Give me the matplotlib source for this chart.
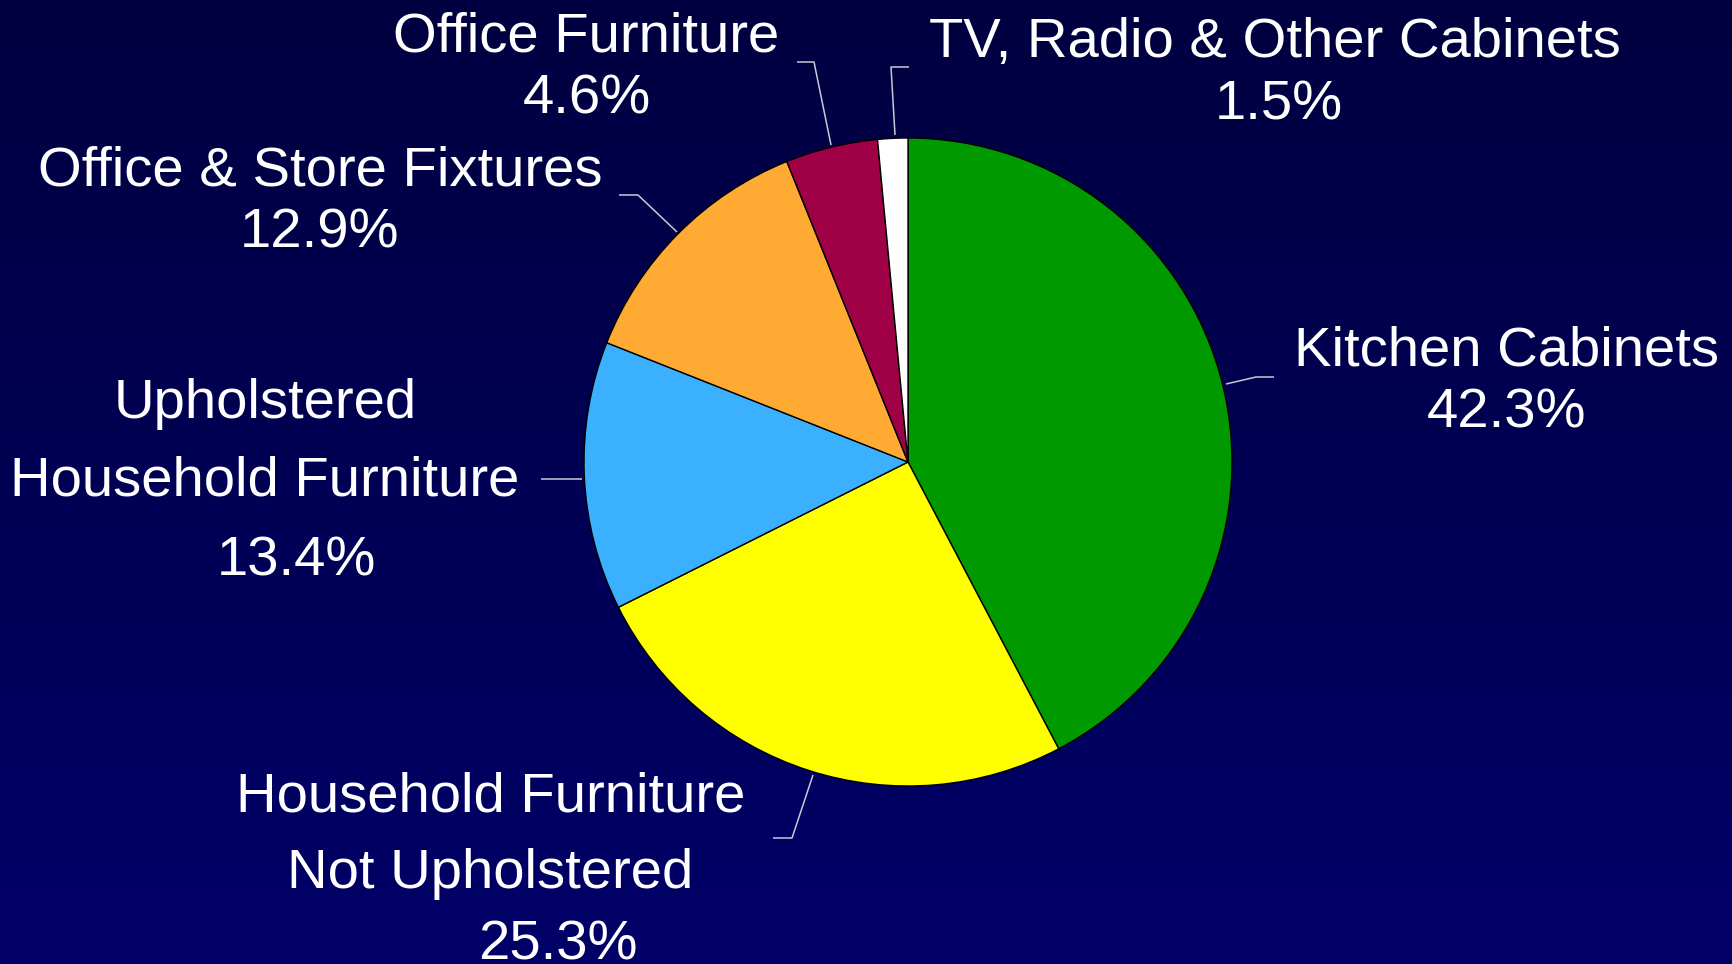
import numpy as np
import matplotlib
matplotlib.use("Agg")
import matplotlib.pyplot as plt

# ---- data ----
categories = ["Kitchen Cabinets", "Household Furniture Not Upholstered",
              "Upholstered Household Furniture", "Office & Store Fixtures",
              "Office Furniture", "TV, Radio & Other Cabinets"]
shares = [42.3, 25.3, 13.4, 12.9, 4.6, 1.5]
colors = ["#009900", "#FFFF00", "#3BB0FF", "#FFAA33", "#A00045", "#FFFFFF"]
label_lines = [["Kitchen Cabinets"],
               ["Household Furniture", "Not Upholstered"],
               ["Upholstered", "Household Furniture"],
               ["Office & Store Fixtures"],
               ["Office Furniture"],
               ["TV, Radio & Other Cabinets"]]

# ---- layout (pixel coordinates, y measured from top) ----
W, H = 1733, 964
cx, cy, R = 908, 462, 324
text_pos = [
    [(1507, 365), (1507, 428)],
    [(491, 811), (490, 888), (558, 960)],
    [(265, 418), (265, 495), (296, 575)],
    [(320, 185), (320, 248)],
    [(586, 52), (587, 113)],
    [(1275, 57), (1279, 119)],
]
font_size = 40.5
leaders = [
    [(1274, 377), (1256, 377), (1226, 384)],
    [(773, 838), (792, 838), (813, 775)],
    [(541, 479), (582, 479)],
    [(619, 195), (638, 195), (677, 232)],
    [(797, 62), (814, 62), (831, 145)],
    [(909, 67), (891, 67), (895, 135)],
]

fig = plt.figure(figsize=(W / 100, H / 100), dpi=100)
ax = fig.add_axes([0, 0, 1, 1])

# background gradient
grad = np.linspace(0, 1, 256).reshape(-1, 1)
top = np.array([0, 0, 64]) / 255
bot = np.array([0, 0, 104]) / 255
img = top + (bot - top) * grad[:, :, None]
ax.imshow(img, extent=(0, W, H, 0), aspect="auto", zorder=0)

# y axis is inverted (pixel coords), so visual clockwise from top =
# counter-clockwise in data from -90 degrees
ax.pie(shares, colors=colors, startangle=-90, counterclock=True,
       center=(cx, cy), radius=R,
       wedgeprops=dict(edgecolor="black", linewidth=1.0, zorder=2))

for lines, share, pos in zip(label_lines, shares, text_pos):
    texts = lines + [f"{share:.1f}%"]
    for t, (x, y) in zip(texts, pos):
        ax.text(x, y, t, ha="center", va="baseline", zorder=5,
                family=["Liberation Sans", "DejaVu Sans"], fontsize=font_size,
                color="white")

for pts in leaders:
    xs, ys = zip(*pts)
    ax.plot(xs, ys, color="#C8C8D8", lw=1.1, zorder=4, solid_capstyle="butt")

ax.set_xlim(0, W)
ax.set_ylim(H, 0)
ax.set_aspect("auto")
ax.axis("off")

fig.savefig("out.png", dpi=100)
